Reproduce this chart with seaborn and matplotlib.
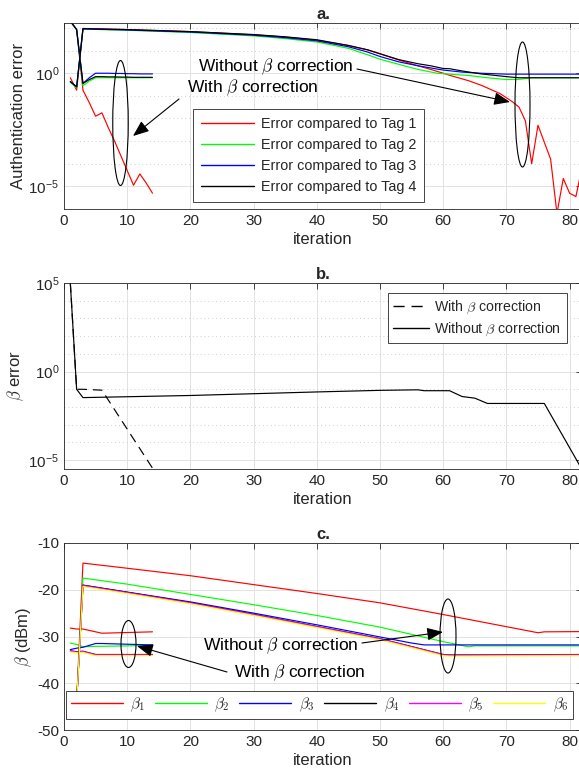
import numpy as np
import seaborn as sns
import matplotlib
matplotlib.use("Agg")
import matplotlib.pyplot as plt
from matplotlib.patches import Ellipse, FancyArrowPatch
from matplotlib.ticker import FixedLocator, FuncFormatter, NullFormatter

# ---------------- data ----------------
# a. authentication error, stored as log10(error)
iter_a_with = [1, 2, 3, 4, 5, 6, 7, 8, 9, 10, 11, 12, 13, 14]
auth_with_tag1 = [2.3, 1.93, -0.75, -1.3, -1.9, -1.75, -2.4, -3.0, -3.65, -4.3, -4.95, -4.45, -4.85, -5.3]
auth_with_tag2 = [2.3, 1.93, -0.55, -0.35, -0.2, -0.2, -0.2, -0.2, -0.2, -0.2, -0.2, -0.2, -0.2, -0.2]
auth_with_tag3 = [2.3, 1.93, -0.45, -0.2, 0.0, 0.0, 0.0, -0.01, -0.01, -0.02, -0.02, -0.03, -0.03, -0.03]
auth_with_tag4 = [2.3, 1.93, -0.45, -0.28, -0.15, -0.15, -0.16, -0.16, -0.17, -0.17, -0.18, -0.18, -0.18, -0.18]

iter_a_wo_tag1 = [1, 2, 3, 10, 20, 30, 35, 40, 45, 48, 50, 53, 56, 58, 60, 61, 64, 66, 69, 71, 72, 73, 74, 75,
                  77, 78, 79, 80, 81, 82]
auth_wo_tag1 = [-0.2, -0.75, 1.98, 1.93, 1.84, 1.7, 1.6, 1.46, 1.22, 1.03, 0.86, 0.58, 0.33, 0.17, 0.0, -0.09,
                -0.33, -0.53, -0.9, -1.27, -1.5, -2.1, -4.0, -2.3, -3.8, -6.2, -4.65, -5.3, -5.45, -4.1]
iter_a_wo_tag2 = [1, 2, 3, 10, 20, 30, 35, 40, 45, 48, 50, 53, 56, 59, 62, 64, 67, 70, 72, 74, 82]
auth_wo_tag2 = [-0.4, -0.65, 1.95, 1.9, 1.8, 1.65, 1.53, 1.38, 1.1, 0.82, 0.62, 0.39, 0.17, 0.0, -0.06, -0.1,
                -0.2, -0.28, -0.27, -0.2, -0.2]
iter_a_wo_tag3 = [1, 2, 3, 10, 20, 30, 35, 40, 45, 48, 50, 53, 56, 60, 63, 66, 70, 82]
auth_wo_tag3 = [-0.37, -0.6, 1.96, 1.91, 1.82, 1.68, 1.57, 1.43, 1.17, 0.94, 0.74, 0.5, 0.33, 0.14, 0.05, 0.0,
                -0.04, -0.04]
iter_a_wo_tag4 = [1, 2, 3, 10, 20, 30, 35, 40, 45, 48, 50, 53, 56, 58, 60, 61, 63, 66, 70, 72, 82]
auth_wo_tag4 = [-0.37, -0.6, 1.97, 1.93, 1.84, 1.71, 1.61, 1.48, 1.23, 1.04, 0.86, 0.6, 0.42, 0.33, 0.21, 0.2,
                0.1, -0.03, -0.15, -0.2, -0.2]
tag_labels = ["Error compared to Tag 1", "Error compared to Tag 2",
              "Error compared to Tag 3", "Error compared to Tag 4"]

# b. beta error, stored as log10(error)
iter_b_with = [1, 2, 3, 6, 14]
beta_err_with = [5.0, -1.0, -1.0, -1.05, -5.45]
iter_b_wo = [1, 2, 3, 20, 40, 50, 56, 57, 61, 63, 65, 67, 76, 82]
beta_err_wo = [5.0, -1.0, -1.47, -1.35, -1.15, -1.06, -1.03, -1.08, -1.08, -1.41, -1.5, -1.8, -1.8, -5.55]
corr_labels = [r"With $\beta$ correction", r"Without $\beta$ correction"]

# c. beta estimates in dBm
iter_c_with = [1, 2, 3, 5, 6, 14]
beta1_with = [-28.2, -28.4, -28.4, -29.0, -29.3, -29.0]
beta2_with = [-31.4, -31.7, -32.2, -32.1, -32.1, -31.9]
beta3_with = [-32.8, -32.5, -32.3, -31.5, -31.5, -31.8]
beta4_with = [-33.05, -33.25, -33.15, -33.85, -33.85, -33.85]
beta5_with = [-33.1, -33.3, -33.2, -33.9, -33.9, -33.9]
beta6_with = [-33.3, -33.5, -33.4, -34.1, -34.1, -34.1]

iter_c_wo_b1 = [1, 2, 3, 10, 20, 30, 40, 50, 60, 70, 75, 76, 82]
beta1_wo = [-44, -44, -14.3, -15.4, -17.0, -18.9, -20.8, -22.8, -25.3, -27.9, -29.2, -29.0, -28.95]
iter_c_wo_b2 = [1, 2, 3, 10, 20, 30, 40, 50, 60, 64, 65, 82]
beta2_wo = [-44, -44, -17.5, -18.8, -21.0, -23.2, -25.5, -28.0, -31.1, -32.2, -32.0, -32.0]
iter_c_wo_b3 = [1, 2, 3, 10, 20, 30, 40, 50, 55, 57, 82]
beta3_wo = [-44, -44, -19.0, -20.5, -22.6, -25.0, -27.5, -30.1, -31.4, -31.8, -31.8]
iter_c_wo_b456 = [1, 2, 3, 10, 20, 30, 40, 50, 55, 60, 61, 82]
beta4_wo = [-44, -44, -19.05, -20.55, -22.75, -25.25, -27.85, -30.45, -32.15, -33.85, -33.95, -33.85]
beta5_wo = [-44, -44, -19.1, -20.6, -22.8, -25.3, -27.9, -30.5, -32.2, -33.9, -34.0, -33.9]
beta6_wo = [-44, -44, -19.3, -20.8, -23.0, -25.5, -28.1, -30.7, -32.4, -34.1, -34.2, -34.1]
beta_labels = [r"$\beta_1$", r"$\beta_2$", r"$\beta_3$", r"$\beta_4$", r"$\beta_5$", r"$\beta_6$"]

# ---------------- style ----------------
sns.set_style("white")
plt.rcParams["font.family"] = ["Liberation Sans", "DejaVu Sans"]
plt.rcParams["mathtext.fontset"] = "cm"
plt.rcParams["axes.unicode_minus"] = False

DARK = "#262626"
tag_colors = ["#ff0000", "#00ff00", "#0000ff", "#000000"]
beta_colors = ["#ff0000", "#00ff00", "#0000ff", "#000000", "#ff00ff", "#ffff00"]
LW = 0.85

W, H = 579, 784
fig = plt.figure(figsize=(W / 100, H / 100), dpi=100)


def fx(px):
    return px / W


def fy(py):
    return 1 - py / H


X0, XSCALE, XMAX = 64.0, 6.32, 82.0


def make_axes(top, bottom):
    left = fx(X0)
    width = XMAX * XSCALE / W
    return fig.add_axes([left, fy(bottom), width, (bottom - top) / H])


def style_axes(ax):
    for s in ax.spines.values():
        s.set_color(DARK)
        s.set_linewidth(0.6)
    ax.tick_params(which="both", direction="in", top=True, right=True,
                   colors=DARK, labelsize=11, width=0.6)
    ax.tick_params(which="major", length=4)
    ax.tick_params(which="minor", length=2)
    ax.set_xlim(0, XMAX)
    ax.set_xticks(range(0, 90, 10))
    ax.set_axisbelow(True)
    ax.grid(True, which="major", color="#e2e2e2", lw=0.7, ls="-")
    ax.set_xlabel("iteration", fontsize=12, color=DARK, labelpad=3)


def log_axis(ax, lo, hi, majors, minors):
    ax.set_yscale("log")
    ax.set_ylim(10.0 ** lo, 10.0 ** hi)
    ax.yaxis.set_major_locator(FixedLocator([10.0 ** m for m in majors]))
    ax.yaxis.set_minor_locator(FixedLocator([10.0 ** m for m in minors]))
    ax.yaxis.set_major_formatter(FuncFormatter(lambda v, p: r"$\mathregular{10^{%d}}$" % round(np.log10(v))))
    ax.yaxis.set_minor_formatter(NullFormatter())
    ax.grid(True, which="minor", axis="y", color="#cfcfcf", lw=0.7, ls=(0, (1, 3)))


def draw(ax, x, y, color, log=False, **kw):
    y = 10.0 ** np.asarray(y, dtype=float) if log else np.asarray(y, dtype=float)
    sns.lineplot(x=np.asarray(x, dtype=float), y=y, ax=ax, color=color, linewidth=LW,
                 estimator=None, sort=False, legend=False, **kw)
    return ax.lines[-1]


def legend_frame(leg):
    fr = leg.get_frame()
    fr.set_edgecolor(DARK)
    fr.set_linewidth(0.6)
    fr.set_facecolor("white")
    fr.set_alpha(1)
    fr.set_boxstyle("square", pad=0)
    for ln in leg.get_lines():
        ln.set_linewidth(1.0)


# ---------------- a. ----------------
ax_a = make_axes(23, 209)
style_axes(ax_a)
log_axis(ax_a, -6, 2.22, [-5, 0], list(range(-6, 3)))
for y, c in zip([auth_with_tag1, auth_with_tag2, auth_with_tag3, auth_with_tag4], tag_colors):
    draw(ax_a, iter_a_with, y, c, log=True)
handles_a = []
for x, y, c in zip([iter_a_wo_tag1, iter_a_wo_tag2, iter_a_wo_tag3, iter_a_wo_tag4],
                   [auth_wo_tag1, auth_wo_tag2, auth_wo_tag3, auth_wo_tag4], tag_colors):
    handles_a.append(draw(ax_a, x, y, c, log=True))
ax_a.set_ylabel("Authentication error", fontsize=12, color=DARK, labelpad=2)
ax_a.set_title("a.", fontsize=12, fontweight="bold", color=DARK, pad=3)
leg_a = ax_a.legend(handles_a, tag_labels, loc="upper left",
                    bbox_to_anchor=(fx(193), fy(109)), bbox_transform=fig.transFigure,
                    borderaxespad=0, fontsize=10.4, handlelength=3.7, handletextpad=0.45,
                    labelspacing=0.48, borderpad=0.55, fancybox=False, framealpha=1)
legend_frame(leg_a)

# ---------------- b. ----------------
ax_b = make_axes(283, 469)
style_axes(ax_b)
log_axis(ax_b, -5.5, 5, [-5, 0, 5], list(range(-5, 6)))
h_with = draw(ax_b, iter_b_with, beta_err_with, "k", log=True)
h_with.set_dashes([8, 5])
h_wo = draw(ax_b, iter_b_wo, beta_err_wo, "k", log=True)
ax_b.set_ylabel(r"$\beta$ error", fontsize=12, color=DARK, labelpad=2)
ax_b.set_title("b.", fontsize=12, fontweight="bold", color=DARK, pad=3)
leg_b = ax_b.legend([h_with, h_wo], corr_labels, loc="upper right",
                    bbox_to_anchor=(fx(567), fy(293)), bbox_transform=fig.transFigure,
                    borderaxespad=0, fontsize=10.2, handlelength=2.5, handletextpad=0.4,
                    labelspacing=0.3, borderpad=0.4, fancybox=False, framealpha=1)
legend_frame(leg_b)

# ---------------- c. ----------------
ax_c = make_axes(543, 730)
style_axes(ax_c)
ax_c.set_ylim(-50, -10)
ax_c.set_yticks(range(-50, 0, 10))
for y, c in zip([beta1_with, beta2_with, beta3_with, beta4_with, beta5_with, beta6_with], beta_colors):
    draw(ax_c, iter_c_with, y, c)
handles_c = []
for x, y, c in zip([iter_c_wo_b1, iter_c_wo_b2, iter_c_wo_b3, iter_c_wo_b456, iter_c_wo_b456, iter_c_wo_b456],
                   [beta1_wo, beta2_wo, beta3_wo, beta4_wo, beta5_wo, beta6_wo], beta_colors):
    handles_c.append(draw(ax_c, x, y, c))
ax_c.set_ylabel(r"$\beta$ (dBm)", fontsize=12, color=DARK, labelpad=2)
ax_c.set_title("c.", fontsize=12, fontweight="bold", color=DARK, pad=3)
leg_c = ax_c.legend(handles_c, beta_labels, loc="lower left", ncol=6, mode="expand",
                    bbox_to_anchor=(fx(66), fy(719), (573 - 66) / W, (719 - 689) / H),
                    bbox_transform=fig.transFigure, borderaxespad=0, fontsize=11,
                    handlelength=3.4, handletextpad=0.5, columnspacing=0.6,
                    borderpad=0.3, fancybox=False, framealpha=1)
legend_frame(leg_c)


# ---------------- annotations ----------------
def ellipse(cx, cy, w, h):
    fig.add_artist(Ellipse((fx(cx), fy(cy)), w / W, h / H, transform=fig.transFigure,
                           fill=False, ec="k", lw=0.8))


def arrow(x0, y0, x1, y1):
    fig.add_artist(FancyArrowPatch((fx(x0), fy(y0)), (fx(x1), fy(y1)), transform=fig.transFigure,
                                   arrowstyle="-|>,head_length=0.75,head_width=0.3",
                                   mutation_scale=13, color="k", lw=0.8,
                                   shrinkA=0, shrinkB=0))


def label(cx, cy, s):
    fig.text(fx(cx), fy(cy), s, ha="center", va="center", fontsize=12.5, color="k")


ellipse(120.5, 123, 15.5, 125)
ellipse(522.5, 104.5, 15, 125)
label(276, 67, r"Without $\beta$ correction")
label(253, 88, r"With $\beta$ correction")
arrow(357, 69, 510, 102)
arrow(179, 99, 133, 136)

ellipse(128.5, 644, 15, 47)
ellipse(448, 636, 16, 74)
label(281, 646, r"Without $\beta$ correction")
label(300, 673, r"With $\beta$ correction")
arrow(362, 643, 443, 632)
arrow(227, 672, 137, 646)

fig.savefig("out.png", dpi=100)
